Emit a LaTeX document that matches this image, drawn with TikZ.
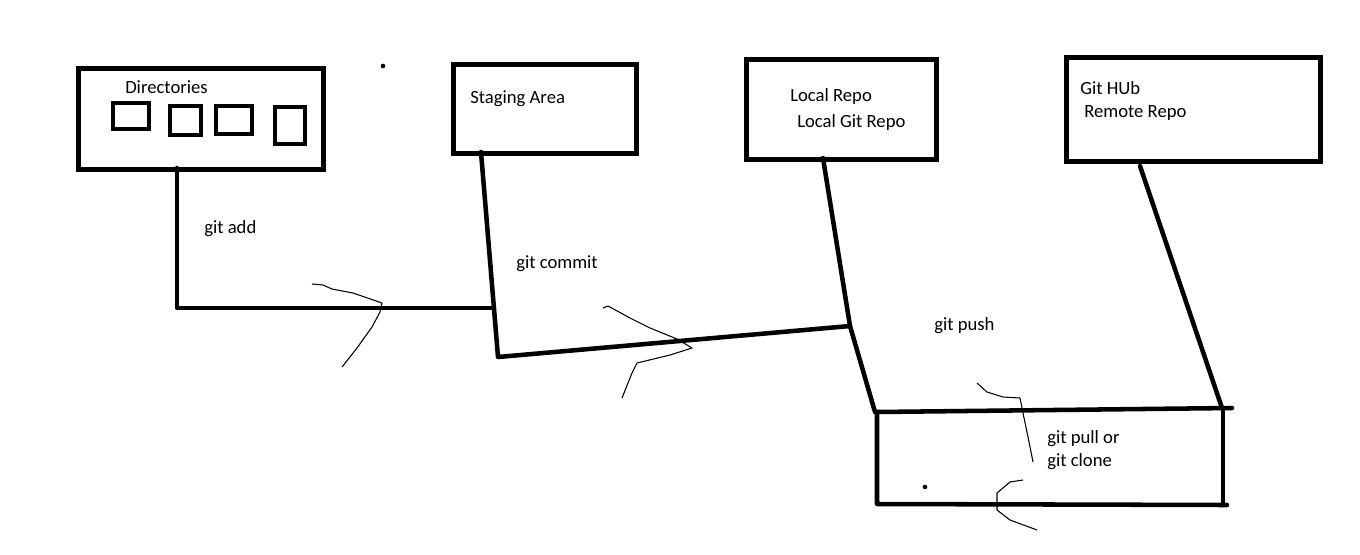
\documentclass[tikz,border=0pt]{standalone}
\usepackage{fontspec}
\setmainfont{Carlito}
\begin{document}
\begin{tikzpicture}[x=0.75pt,y=-0.75pt,
  thick line/.style={line width=3.4pt,line cap=round,line join=round},
  thin line/.style={line width=0.8pt,line join=round},
  bigbox/.style={draw,line width=3.4pt,inner sep=0pt,anchor=north west},
  smallbox/.style={draw,line width=3pt,inner sep=0pt,anchor=north west},
  lbl/.style={anchor=base west,inner sep=0pt,font=\fontsize{14pt}{16pt}\selectfont},
  dot/.style={circle,fill,inner sep=0pt,minimum size=3.5pt}]
\useasboundingbox (0,0) rectangle (1360,554);
% boxes
\node[bigbox,minimum width=245*0.75pt,minimum height=101*0.75pt] (dir) at (76,66) {};
\node[bigbox,minimum width=183*0.75pt,minimum height=89*0.75pt] (stage) at (451,62) {};
\node[bigbox,minimum width=190*0.75pt,minimum height=100*0.75pt] (local) at (744,57) {};
\node[bigbox,minimum width=254*0.75pt,minimum height=104*0.75pt] (remote) at (1064,55) {};
% small directory boxes
\node[smallbox,minimum width=36*0.75pt,minimum height=26*0.75pt] (d1) at (111,101) {};
\node[smallbox,minimum width=31*0.75pt,minimum height=29*0.75pt] (d2) at (168,104) {};
\node[smallbox,minimum width=36*0.75pt,minimum height=28*0.75pt] (d3) at (214,104) {};
\node[smallbox,minimum width=30*0.75pt,minimum height=37*0.75pt] (d4) at (273,105) {};
% labels
\node[lbl] (tdir) at (125,93) {Directories};
\node[lbl] (tstage) at (470,103) {Staging Area};
\node[lbl] (tlocal1) at (790,101) {Local Repo};
\node[lbl] (tlocal2) at (797,127) {Local Git Repo};
\node[lbl] (trem1) at (1080,94) {Git HUb};
\node[lbl] (trem2) at (1084,117) {Remote Repo};
\node[lbl] (tadd) at (204,233) {git add};
\node[lbl] (tcommit) at (516,268) {git commit};
\node[lbl] (tpush) at (934,330) {git push};
\node[lbl] (tpull) at (1047,443) {git pull or};
\node[lbl] (tclone) at (1047,466) {git clone};
% dots
\node[dot] (dotA) at (383,66) {};
\node[dot] (dotB) at (925,487) {};
% connector coordinates
\coordinate (dirout) at (177,168);
\coordinate (c1) at (177,308);
\coordinate (c2) at (491,308);
\coordinate (stout) at (481,152);
\coordinate (c3) at (498,357);
\coordinate (c4) at (850,326);
\coordinate (lout) at (823,158);
\coordinate (c5) at (875,412);
\coordinate (rout) at (1140,166);
\coordinate (c6) at (1222,408);
% bottom box
\coordinate (bTL) at (877,412);
\coordinate (bTR) at (1232,408);
\coordinate (bBL) at (877,504);
\coordinate (bBR) at (1227,505);
\coordinate (bRT) at (1223,408);
\coordinate (bRB) at (1223,504);
% connectors
\draw[thick line] (dirout) -- (c1) -- (c2);
\draw[thick line] (stout) -- (c3) -- (c4);
\draw[thick line] (lout) -- (c4) -- (c5);
\draw[thick line] (rout) -- (c6);
\draw[thick line] (bTL) -- (bTR);
\draw[thick line] (bTL) -- (bBL) -- (bBR);
\draw[thick line] (bRT) -- (bRB);
% hand-drawn arrow hints
\draw[thin line] (312,284) -- (323,285) -- (332,289) -- (353,293) -- (382,303) -- (380,312) -- (372,327) -- (357,348) -- (342,367);
\draw[thin line] (603,308) -- (608,306) -- (630,318) -- (650,328) -- (677,339) -- (692,348) -- (670,355) -- (637,363) -- (632,373) -- (622,398);
\draw[thin line] (977,383) -- (987,392) -- (1003,397) -- (1020,398) -- (1023,413) -- (1028,437) -- (1033,462);
\draw[thin line] (1023,480) -- (1010,482) -- (997,493) -- (997,510) -- (1010,520) -- (1037,530);
\end{tikzpicture}
\end{document}
